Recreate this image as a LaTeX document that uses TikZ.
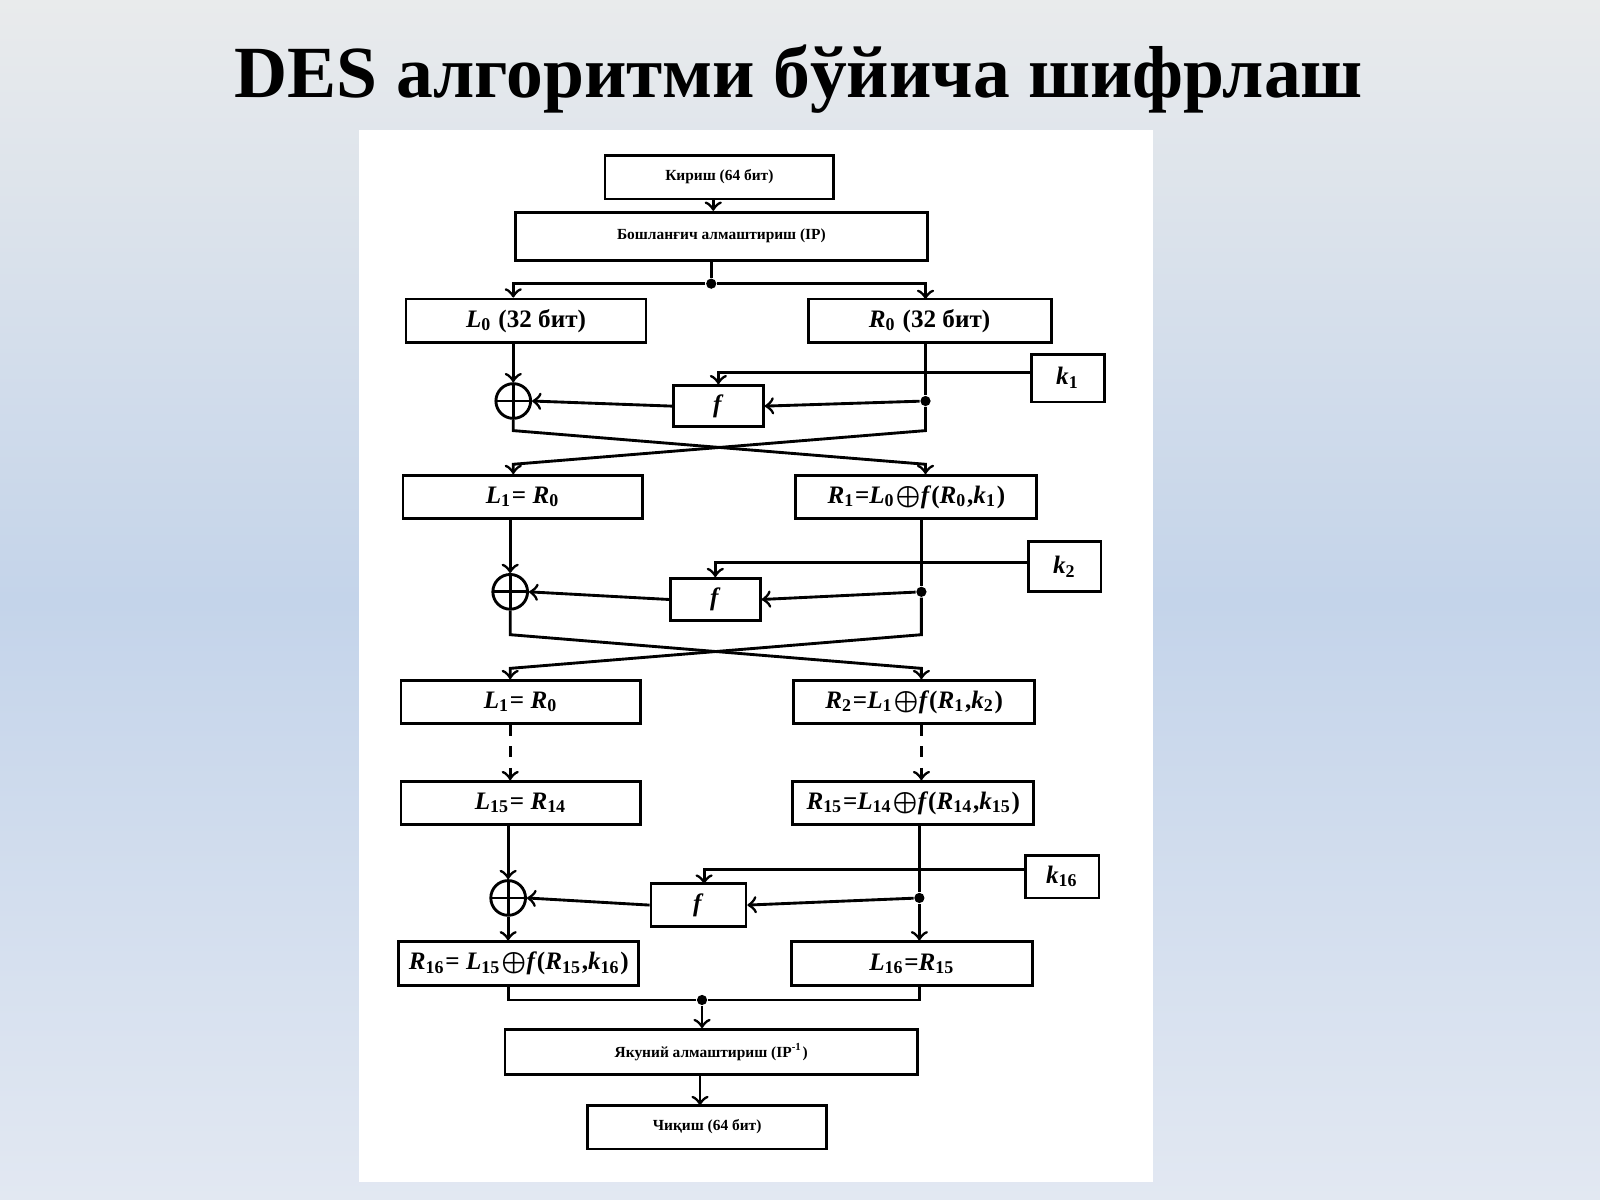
\documentclass[tikz,border=0pt]{standalone}
\usepackage{fontspec}
\setmainfont{Liberation Serif}
\usetikzlibrary{arrows}
\newcommand\vv[2]{\textit{#1}\textsubscript{#2}}
\newcommand\xo{$\boldsymbol{\oplus}$}
\usepackage{amsmath}
\definecolor{bgtop}{HTML}{E9EBEC}
\definecolor{bgmid}{HTML}{C4D4EA}
\definecolor{bgbot}{HTML}{E2E8F2}
\tikzset{
  blk/.style={draw, line width=0.8pt, font=\fontsize{7}{8}\selectfont\bfseries, inner sep=0pt},
  sblk/.style={blk, font=\fontsize{4.3}{5}\selectfont\bfseries},
  xor/.style={draw, circle, line width=0.8pt, minimum size=0.34cm, inner sep=0pt, path picture={
      \draw (path picture bounding box.north) -- (path picture bounding box.south)
            (path picture bounding box.west) -- (path picture bounding box.east);}},
  arr/.style={->, >=to, line width=0.8pt},
  ln/.style={line width=0.8pt},
  dot/.style={fill, circle, inner sep=0pt, minimum size=0.1cm}
}
\begin{document}
\begin{tikzpicture}[x=0.01cm, y=-0.01cm]
\shade[top color=bgtop, bottom color=bgbot, middle color=bgmid] (0,0) rectangle (1568,1176);
\fill[white] (352,127) rectangle (1130,1158);
\node[font=\fontsize{20.5}{24}\selectfont\bfseries] (title) at (783,78) {DES алгоритми бўйича шифрлаш};
% boxes
\node[sblk, minimum width=2.24cm, minimum height=0.43cm] (in) at (705,173.5) {Кириш (64 бит)};
\node[sblk, minimum width=4.04cm, minimum height=0.47cm] (ip) at (707,231.5) {Бошланғич алмаштириш (IP)};
\node[blk, minimum width=2.35cm, minimum height=0.43cm] (L0) at (515.5,314.5) {\vv{L}{0} (32 бит)};
\node[blk, minimum width=2.38cm, minimum height=0.43cm] (R0) at (911,314.5) {\vv{R}{0} (32 бит)};
\node[blk, minimum width=0.71cm, minimum height=0.47cm] (k1) at (1046.5,370.5) {\vv{k}{1}};
\node[xor] (x1) at (503,393) {};
\node[blk, minimum width=0.88cm, minimum height=0.40cm] (f1) at (704,398) {\textit{f}};
\node[blk, minimum width=2.35cm, minimum height=0.42cm] (L1) at (512.5,487) {\vv{L}{1}= \vv{R}{0}};
\node[blk, minimum width=2.36cm, minimum height=0.42cm] (R1) at (898,487) {\vv{R}{1}=\vv{L}{0}\xo\textit{f}(\vv{R}{0},\vv{k}{1})};
\node[blk, minimum width=0.71cm, minimum height=0.49cm] (k2) at (1043.5,555.5) {\vv{k}{2}};
\node[xor] (x2) at (500,580) {};
\node[blk, minimum width=0.88cm, minimum height=0.41cm] (f2) at (701,587.5) {\textit{f}};
\node[blk, minimum width=2.35cm, minimum height=0.42cm] (L2) at (510.5,688) {\vv{L}{1}= \vv{R}{0}};
\node[blk, minimum width=2.36cm, minimum height=0.42cm] (R2) at (896,688) {\vv{R}{2}=\vv{L}{1}\xo\textit{f}(\vv{R}{1},\vv{k}{2})};
\node[blk, minimum width=2.35cm, minimum height=0.42cm] (L15) at (510.5,787) {\vv{L}{15}= \vv{R}{14}};
\node[blk, minimum width=2.36cm, minimum height=0.42cm] (R15) at (895,787) {\vv{R}{15}=\vv{L}{14}\xo\textit{f}(\vv{R}{14},\vv{k}{15})};
\node[blk, minimum width=0.72cm, minimum height=0.42cm] (k16) at (1041,859) {\vv{k}{16}};
\node[xor] (x3) at (498,880) {};
\node[blk, minimum width=0.93cm, minimum height=0.42cm] (f3) at (684.5,887) {\textit{f}};
\node[blk, minimum width=2.35cm, minimum height=0.43cm] (R16) at (508.5,944.5) {\vv{R}{16}= \vv{L}{15}\xo\textit{f}(\vv{R}{15},\vv{k}{16})};
\node[blk, minimum width=2.36cm, minimum height=0.43cm] (L16) at (894,944.5) {\vv{L}{16}=\vv{R}{15}};
\node[sblk, minimum width=4.04cm, minimum height=0.44cm] (fp) at (697,1031) {Якуний алмаштириш (IP\textsuperscript{-1})};
\node[sblk, minimum width=2.34cm, minimum height=0.43cm] (out) at (693,1104.5) {Чиқиш (64 бит)};
% split
\node[dot] (s0) at (697,278) {};
\draw[arr] (in.south -| ip.north) ++(-8,0) coordinate (t0) -- (t0 |- ip.north);
\draw[ln] (ip.south -| s0) -- (s0);
\draw[arr] (s0) -| (x1 |- L0.north);
\draw[arr] (s0) -| (907,293);
% round 1
\node[dot] (d1) at (907,393) {};
\draw[arr] (x1 |- L0.south) -- (x1.north);
\draw[ln] (R0.south -| d1) -- (d1);
\draw[arr] (d1) -- (f1.east);
\draw[arr] (f1.west) -- (x1.east);
\draw[arr] (k1.west |- 0,365) -| (f1.north);
\draw[arr] (x1.south) -- (503,422) -- (907,455) -- (d1 |- R1.north);
\draw[arr] (d1) -- (907,422) -- (503,455) -- (x1 |- L1.north);
% round 2
\node[dot] (d2) at (903,580) {};
\draw[arr] (x2 |- L1.south) -- (x2.north);
\draw[ln] (R1.south -| d2) -- (d2);
\draw[arr] (d2) -- (f2.east);
\draw[arr] (f2.west) -- (x2.east);
\draw[arr] (k2.west |- 0,551) -| (f2.north);
\draw[arr] (x2.south) -- (500,622) -- (903,655) -- (d2 |- R2.north);
\draw[arr] (d2) -- (903,622) -- (500,655) -- (x2 |- L2.north);
% rounds 3..15
\draw[arr, dashed] (x2 |- L2.south) -- (x2 |- L15.north);
\draw[arr, dashed] (d2 |- R2.south) -- (d2 |- R15.north);
% round 16
\node[dot] (d3) at (901,880) {};
\draw[arr] (x3 |- L15.south) -- (x3.north);
\draw[arr] (x3.south) -- (x3 |- R16.north);
\draw[ln] (R15.south -| d3) -- (d3);
\draw[arr] (d3) -- (d3 |- L16.north);
\draw[arr] (d3) -- (f3.east);
\draw[arr] (f3.west) -- (x3.east);
\draw[arr] (k16.west |- 0,852) -| (690,866);
% output
\node[dot] (s1) at (688,980) {};
\draw[ln] (x3 |- R16.south) |- (s1) -| (d3 |- L16.south);
\draw[arr] (s1) -- (s1 |- fp.north);
\draw[arr] (686,1053) -- (686,1083);
\end{tikzpicture}
\end{document}
